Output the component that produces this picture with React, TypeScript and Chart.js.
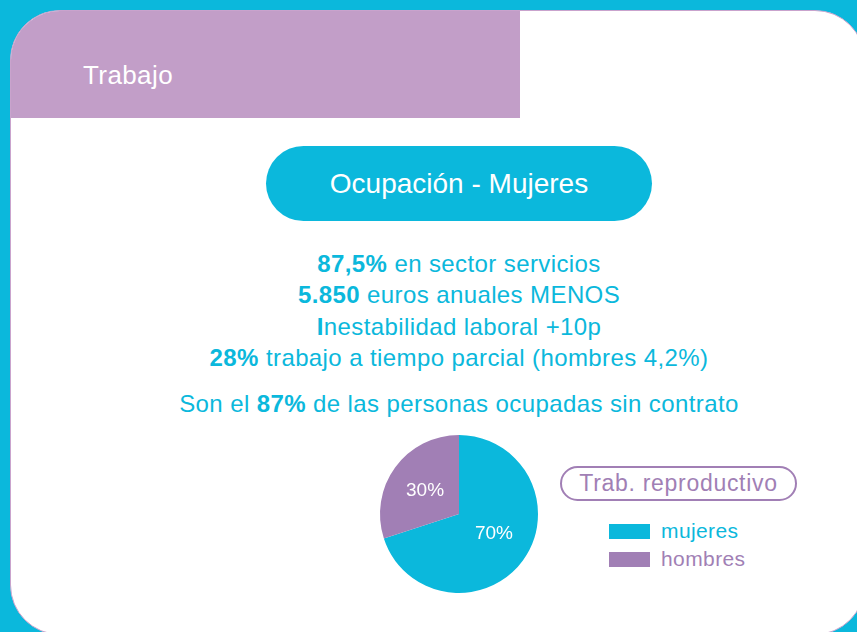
import React, { useEffect, useRef } from "react";
import { Chart, registerables } from "chart.js";

Chart.register(...registerables);

const categories = ["mujeres", "hombres"];
const values = [70, 30];
const sliceLabels = ["70%", "30%"];
const legendTitle = "Trab. reproductivo";
const sectionTitle = "Trabajo";
const pillTitle = "Ocupación - Mujeres";
const statLines: [string, string][] = [
  ["87,5%", " en sector servicios"],
  ["5.850", " euros anuales MENOS"],
  ["I", "nestabilidad laboral +10p"],
  ["28%", " trabajo a tiempo parcial (hombres 4,2%)"],
];
const lastLine: [string, string, string] = ["Son el ", "87%", " de las personas ocupadas sin contrato"];

const CYAN = "#0bb8dc";
const PURPLE = "#a17fb5";
const HEADER = "#c29ec8";
const FONT = "'Liberation Sans', Arial, Helvetica, sans-serif";
const colors = [CYAN, PURPLE];

const labelPlugin = {
  id: "sliceLabels",
  afterDatasetsDraw(chart: any) {
    const ctx = chart.ctx;
    const meta = chart.getDatasetMeta(0);
    ctx.save();
    ctx.fillStyle = "#ffffff";
    ctx.font = `19px ${FONT}`;
    ctx.textAlign = "center";
    ctx.textBaseline = "middle";
    meta.data.forEach((arc: any, i: number) => {
      const p = arc.tooltipPosition();
      const dx = i === 0 ? 3 : -2;
      const dy = i === 0 ? -3 : 0;
      ctx.fillText(sliceLabels[i], p.x + dx, p.y + dy);
    });
    ctx.restore();
  },
};

function PieChart() {
  const ref = useRef<HTMLCanvasElement>(null);
  useEffect(() => {
    if (!ref.current) return;
    const chart = new Chart(ref.current, {
      type: "pie",
      data: {
        labels: categories,
        datasets: [{ data: values, backgroundColor: colors, borderWidth: 0 }],
      },
      options: {
        animation: false,
        responsive: false,
        layout: { padding: 21 },
        plugins: { legend: { display: false }, tooltip: { enabled: false } },
      },
      plugins: [labelPlugin],
    });
    return () => chart.destroy();
  }, []);
  return (
    <canvas
      ref={ref}
      width={200}
      height={200}
      style={{ position: "absolute", left: 359, top: 414, width: 200, height: 200 }}
    />
  );
}

const centered = (top: number, size: number): React.CSSProperties => ({
  position: "absolute",
  left: 459,
  top,
  transform: "translateX(-50%)",
  whiteSpace: "nowrap",
  fontSize: size,
  letterSpacing: 0.4,
  lineHeight: "31px",
  color: CYAN,
});

export default function App() {
  return (
    <div
      style={{
        position: "relative",
        width: 857,
        height: 632,
        overflow: "hidden",
        background: CYAN,
        fontFamily: FONT,
      }}
    >
      <style>{"body{margin:0}"}</style>
      <div
        style={{
          position: "absolute",
          left: 10,
          top: 10,
          width: 855,
          height: 625,
          boxSizing: "border-box",
          borderRadius: 50,
          border: "1px solid #c9a3cd",
          background: "#ffffff",
          overflow: "hidden",
        }}
      >
        <div
          style={{
            position: "absolute",
            left: 0,
            top: 0,
            width: 509,
            height: 107,
            background: HEADER,
          }}
        />
      </div>
      <div
        style={{
          position: "absolute",
          left: 83,
          top: 59,
          fontSize: 26,
          letterSpacing: 0.4,
          lineHeight: "32px",
          color: "#ffffff",
        }}
      >
        {sectionTitle}
      </div>
      <div
        style={{
          position: "absolute",
          left: 266,
          top: 146,
          width: 386,
          height: 75,
          borderRadius: 38,
          background: CYAN,
          color: "#ffffff",
          fontSize: 28,
          lineHeight: "75px",
          textAlign: "center",
        }}
      >
        {pillTitle}
      </div>
      {statLines.map((l, i) => (
        <div key={i} style={centered(248 + i * 31.3, 24)}>
          <b>{l[0]}</b>
          {l[1]}
        </div>
      ))}
      <div style={centered(388, 24)}>
        {lastLine[0]}
        <b>{lastLine[1]}</b>
        {lastLine[2]}
      </div>
      <PieChart />
      <div
        style={{
          position: "absolute",
          left: 560,
          top: 466,
          width: 237,
          height: 35,
          boxSizing: "border-box",
          border: `2px solid ${PURPLE}`,
          borderRadius: 18,
          color: PURPLE,
          fontSize: 23,
          letterSpacing: 0.7,
          lineHeight: "31px",
          textAlign: "center",
        }}
      >
        {legendTitle}
      </div>
      {categories.map((c, i) => (
        <div
          key={c}
          style={{ position: "absolute", left: 609, top: 520 + i * 28, height: 22, display: "flex", alignItems: "center" }}
        >
          <span style={{ display: "inline-block", width: 41, height: 15, background: colors[i] }} />
          <span style={{ marginLeft: 11, fontSize: 21, letterSpacing: 0.4, lineHeight: "22px", color: colors[i] }}>{c}</span>
        </div>
      ))}
    </div>
  );
}
